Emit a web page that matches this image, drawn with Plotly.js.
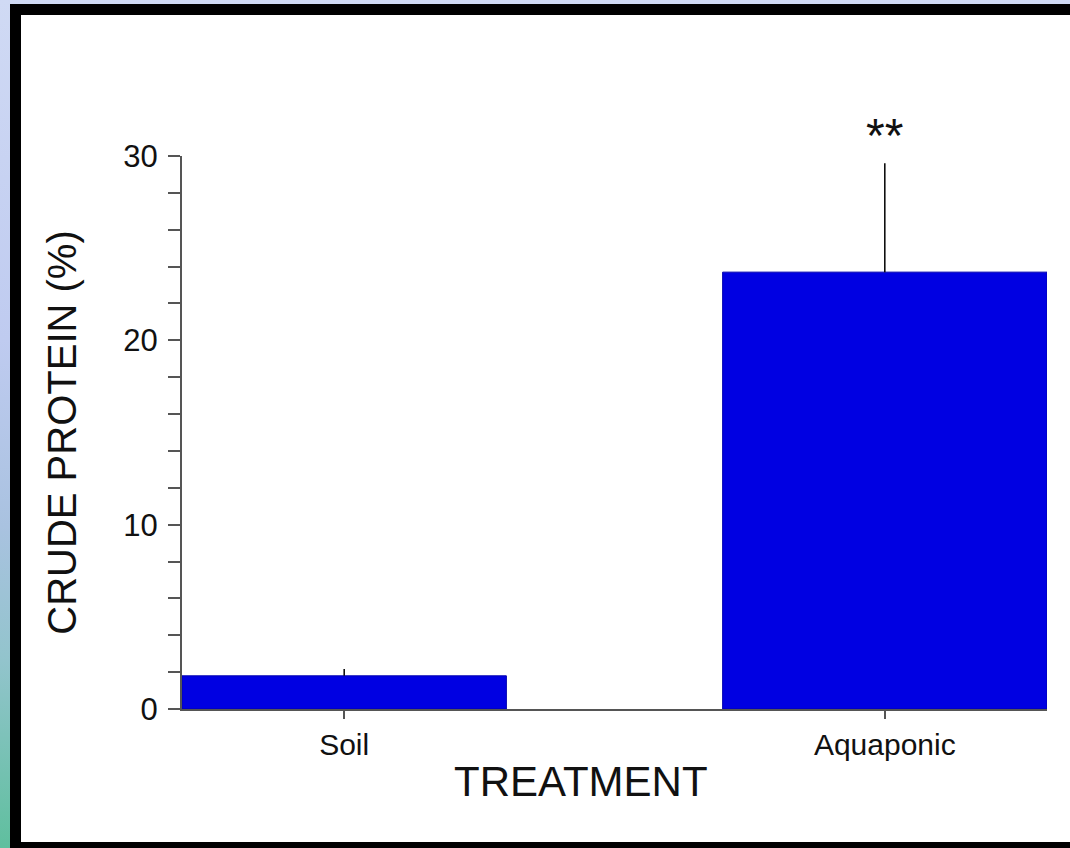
<!DOCTYPE html>
<html>
<head>
<meta charset="utf-8">
<script src="https://cdn.plot.ly/plotly-3.0.1.min.js"></script>
<style>
  html, body { margin: 0; padding: 0; width: 1070px; height: 848px; overflow: hidden; }
  #bg { position: absolute; left: 0; top: 0; width: 1070px; height: 848px;
        background: linear-gradient(to bottom, #d0daf4 0%, #bfcbf0 40%, #a9c2e0 62%, #92c4cc 78%, #5fbf9e 100%); }
  #frame { position: absolute; left: 10px; top: 4px; width: 1060px; height: 844px; box-sizing: border-box;
           border-left: 11px solid #000; border-top: 11px solid #000; border-bottom: 6px solid #000; background: #fff; }
  #chart { position: absolute; left: 0; top: 0; width: 1070px; height: 848px; }
</style>
</head>
<body>
<div id="bg"></div>
<div id="frame"></div>
<div id="chart"></div>
<script>
const categories = ['Soil', 'Aquaponic'];
const crudeProtein = [1.8, 23.7];
const errorUpper = [0.37, 5.9];
const significance = ['', '**'];
const yTickVals = [0, 10, 20, 30];
const yTickText = ['0', '10', '20', '30'];
const yRange = [0, 30];

const trace = {
  type: 'bar',
  x: categories,
  y: crudeProtein,
  width: 0.6,
  marker: { color: '#0000e2', line: { color: '#0000b0', width: 1 } },
  error_y: { type: 'data', symmetric: false, array: errorUpper, arrayminus: [0, 0],
             color: '#000', thickness: 1.5, width: 0, visible: true },
  hoverinfo: 'x+y'
};

const annotations = [];
categories.forEach((c, i) => {
  if (significance[i]) {
    annotations.push({ x: c, y: (crudeProtein[i] + errorUpper[i] + 1.5) / yRange[1], xref: 'x', yref: 'paper',
      text: significance[i], showarrow: false, yanchor: 'middle',
      font: { family: 'Liberation Sans, Arial, sans-serif', size: 48, color: '#111' } });
  }
});
annotations.push({ x: 0.461, y: -0.132, xref: 'paper', yref: 'paper', text: 'TREATMENT',
  showarrow: false, xanchor: 'center', yanchor: 'middle',
  font: { family: 'Liberation Sans, Arial, sans-serif', size: 42, color: '#111' } });

const layout = {
  width: 1070, height: 848,
  margin: { l: 182, r: 23, t: 156, b: 139, pad: 0 },
  paper_bgcolor: 'rgba(0,0,0,0)',
  plot_bgcolor: 'rgba(0,0,0,0)',
  showlegend: false,
  font: { family: 'Liberation Sans, Arial, sans-serif', color: '#111' },
  xaxis: {
    type: 'category', range: [-0.3, 1.3], fixedrange: true,
    showline: true, linecolor: '#555', linewidth: 2,
    ticks: 'outside', ticklen: 8, tickwidth: 1.5, tickcolor: '#555',
    showgrid: false, zeroline: false,
    tickfont: { size: 30, color: '#111' }, ticklabelstandoff: 0
  },
  yaxis: {
    range: yRange, fixedrange: true,
    tickvals: yTickVals, ticktext: yTickText,
    showline: true, linecolor: '#555', linewidth: 2,
    ticks: 'outside', ticklen: 12, tickwidth: 1.5, tickcolor: '#555',
    minor: { dtick: 2, ticks: 'outside', ticklen: 12, tickwidth: 1.5, tickcolor: '#555', showgrid: false },
    showgrid: false, zeroline: false,
    tickfont: { size: 31, color: '#111' }, ticklabelstandoff: 4,
    title: { text: 'CRUDE PROTEIN (%)', font: { size: 40, color: '#111' }, standoff: 34 }
  },
  annotations: annotations
};

Plotly.newPlot('chart', [trace], layout, { displayModeBar: false });
</script>
</body>
</html>
